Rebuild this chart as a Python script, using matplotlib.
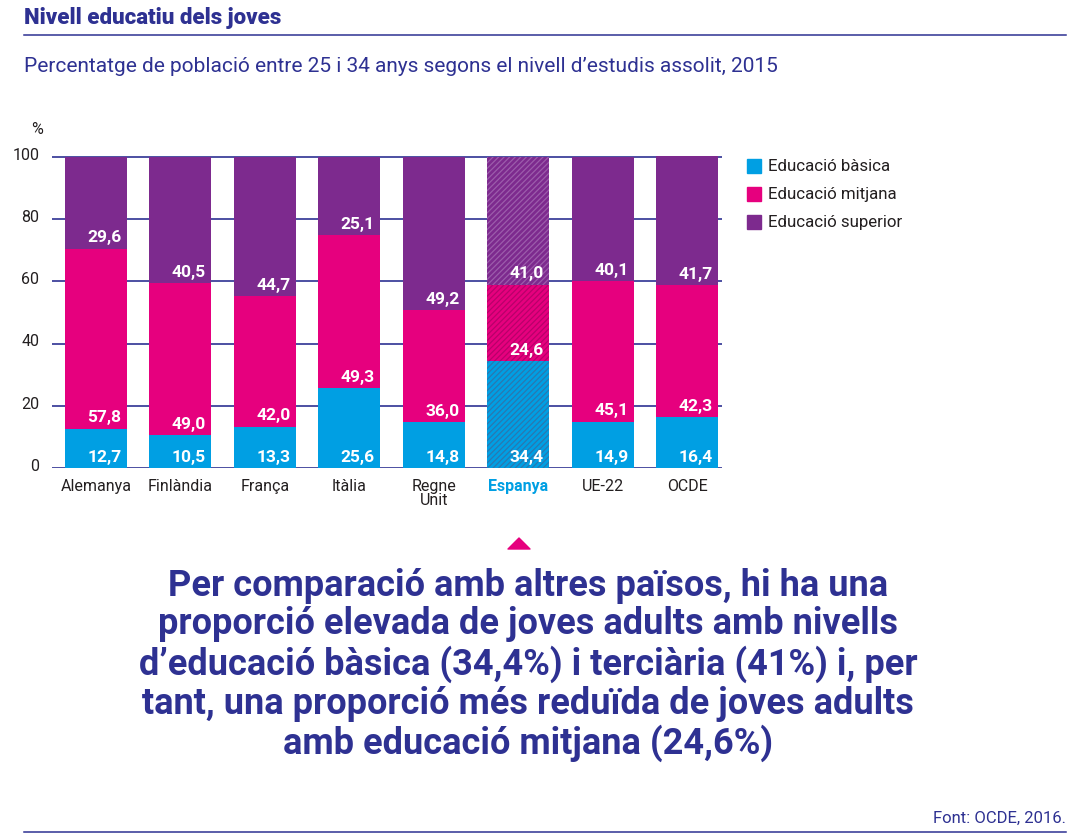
import matplotlib
matplotlib.use("Agg")
import matplotlib.pyplot as plt
import matplotlib.transforms as mtransforms
import numpy as np

plt.rcParams['font.family'] = ['Roboto', 'DejaVu Sans']
plt.rcParams['hatch.linewidth'] = 0.9

# data
paisos = ["Alemanya", "Finlàndia", "França", "Itàlia", "Regne\nUnit", "Espanya", "UE-22", "OCDE"]
basica = [12.7, 10.5, 13.3, 25.6, 14.8, 34.4, 14.9, 16.4]
mitjana = [57.8, 49.0, 42.0, 49.3, 36.0, 24.6, 45.1, 42.3]
superior = [29.6, 40.5, 44.7, 25.1, 49.2, 41.0, 40.1, 41.7]
nivells = ["Educació bàsica", "Educació mitjana", "Educació superior"]
destacat = "Espanya"

navy = "#2e3192"
text_dark = "#231f20"
colors = ["#009fe3", "#e6007e", "#7d2a8e"]
hatch_colors = ["#2a78b0", "#b8006a", "#9c5cab"]

W, H = 1075, 837
fig = plt.figure(figsize=(W / 100, H / 100), dpi=100)

def fx(px):
    return px / W

def fy(py):
    return 1 - py / H

# header
fig.text(fx(24), fy(18), "Nivell educatiu dels joves", color=navy, fontsize=16,
         fontweight='heavy', va='center', ha='left')
fig.add_artist(plt.Line2D([fx(24), fx(1066)], [fy(36), fy(36)], color=navy, lw=1.1))
fig.text(fx(24), fy(66), "Percentatge de població entre 25 i 34 anys segons el nivell d\u2019estudis assolit, 2015",
         color=navy, fontsize=15, va='center', ha='left')

# chart
ax_top, ax_bot = 155, 469
ax = fig.add_axes([fx(52), fy(ax_bot), fx(722) - fx(52), (ax_bot - ax_top) / H])
ymax = 100 * (ax_bot - ax_top) / (469 - 158)
ax.set_ylim(0, ymax)
ax.set_xlim(-0.52, 7.41)

x = np.arange(len(paisos))
width = 0.735
series = [basica, mitjana, superior]
bottoms = np.zeros(len(paisos))
for k, vals in enumerate(series):
    vals = np.array(vals)
    for i in range(len(paisos)):
        if paisos[i] == destacat:
            ax.bar(x[i], vals[i], width, bottom=bottoms[i], color=colors[k],
                   edgecolor=hatch_colors[k], hatch='//////', linewidth=0, zorder=2)
        else:
            ax.bar(x[i], vals[i], width, bottom=bottoms[i], color=colors[k],
                   linewidth=0, zorder=2)
        ax.annotate(f"{vals[i]:.1f}".replace(".", ","),
                    xy=(x[i] + width / 2, bottoms[i]), xytext=(-4, 8.5),
                    textcoords='offset points', ha='right', va='center',
                    color='white', fontsize=12.5, fontweight='bold', zorder=3)
    bottoms = bottoms + vals

yt = [0, 20, 40, 60, 80, 100]
ax.set_yticks(yt)
ax.set_yticklabels([str(v) for v in yt])
ax.yaxis.grid(True, color=navy, lw=1.2, zorder=0)
ax.set_axisbelow(True)
for s in ax.spines.values():
    s.set_visible(False)
ax.tick_params(axis='y', length=0, pad=9, labelsize=11.5, labelcolor=text_dark)
ax.tick_params(axis='x', length=0, pad=7, labelsize=11.5, labelcolor=text_dark)
off = mtransforms.ScaledTranslation(0, 3 / 72, fig.dpi_scale_trans)
for lab in ax.get_yticklabels():
    lab.set_transform(lab.get_transform() + off)
ax.set_xticks(x)
ax.set_xticklabels(paisos, linespacing=0.9)
for lab in ax.get_xticklabels():
    if lab.get_text() == destacat:
        lab.set_color(colors[0])
        lab.set_fontweight('bold')
fig.text(fx(37), fy(130), "%", color=text_dark, fontsize=11.5, ha='center', va='center')

# legend
for k, name in enumerate(nivells):
    yy = 167 + 28 * k
    fig.add_artist(plt.Rectangle((fx(747), fy(yy + 7)), fx(14), 14 / H, color=colors[k]))
    fig.text(fx(768), fy(yy), name, color=text_dark, fontsize=12.2, va='center', ha='left')

# triangle pointer
fig.add_artist(plt.Polygon([[fx(508), fy(550)], [fx(530), fy(550)], [fx(519), fy(539)]],
                           closed=True, color=colors[1], joinstyle='round'))

missatge = ("Per comparació amb altres països, hi ha una\n"
            "proporció elevada de joves adults amb nivells\n"
            "d\u2019educació bàsica (34,4%) i terciària (41%) i, per\n"
            "tant, una proporció més reduïda de joves adults\n"
            "amb educació mitjana (24,6%)")
fig.text(fx(528), fy(665), missatge, color=navy, fontsize=26, fontweight='bold',
         ha='center', va='center', linespacing=1.1)

# footer
fig.text(fx(1066), fy(818), "Font: OCDE, 2016.", color=navy, fontsize=12, ha='right', va='center')
fig.add_artist(plt.Line2D([fx(24), fx(1066)], [fy(833), fy(833)], color=navy, lw=1.1))

fig.savefig("out.png", dpi=100)
